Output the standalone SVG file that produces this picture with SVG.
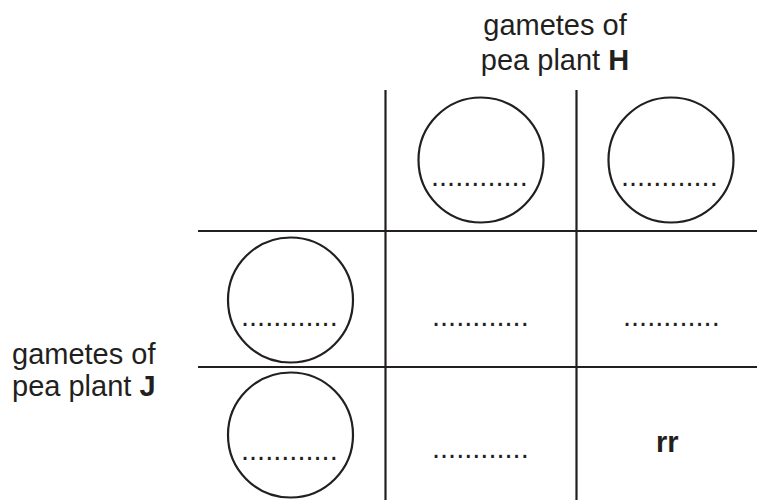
<svg xmlns="http://www.w3.org/2000/svg" width="757" height="500" viewBox="0 0 757 500">
<style>
text{font-family:"Liberation Sans",Arial,Helvetica,sans-serif;font-size:29px;fill:#231f20}
.b{font-weight:bold}
.ln{stroke:#231f20;stroke-width:2.2;fill:none}
.c{stroke:#231f20;stroke-width:2.2;fill:none}
</style>
<rect width="757" height="500" fill="#fff"/>
<g id="grid">
<line class="ln" x1="385.5" y1="90" x2="385.5" y2="500"/>
<line class="ln" x1="576.5" y1="90" x2="576.5" y2="500"/>
<line class="ln" x1="198" y1="231" x2="757" y2="231"/>
<line class="ln" x1="198" y1="367" x2="757" y2="367"/>
</g>
<g id="label-h">
<text x="555" y="35" text-anchor="middle">gametes of</text>
<text x="555" y="70" text-anchor="middle">pea plant <tspan class="b">H</tspan></text>
</g>
<g id="label-j">
<text x="12" y="364">gametes of</text>
<text x="12" y="396">pea plant <tspan class="b">J</tspan></text>
</g>
<g id="gamete-h1">
<circle class="c" cx="481" cy="160" r="62.5"/>
<text x="431" y="185.5">............</text>
</g>
<g id="gamete-h2">
<circle class="c" cx="671" cy="160" r="62.5"/>
<text x="621" y="185.5">............</text>
</g>
<g id="gamete-j1">
<circle class="c" cx="290.5" cy="300" r="62.5"/>
<text x="241" y="325.5">............</text>
</g>
<g id="gamete-j2">
<circle class="c" cx="290.5" cy="435" r="62.5"/>
<text x="241" y="460">............</text>
</g>
<g id="cell-11"><text x="432" y="325.5">............</text></g>
<g id="cell-12"><text x="623" y="325.5">............</text></g>
<g id="cell-21"><text x="432" y="457.5">............</text></g>
<g id="cell-22"><text class="b" x="656" y="452" font-size="30">rr</text></g>
</svg>
